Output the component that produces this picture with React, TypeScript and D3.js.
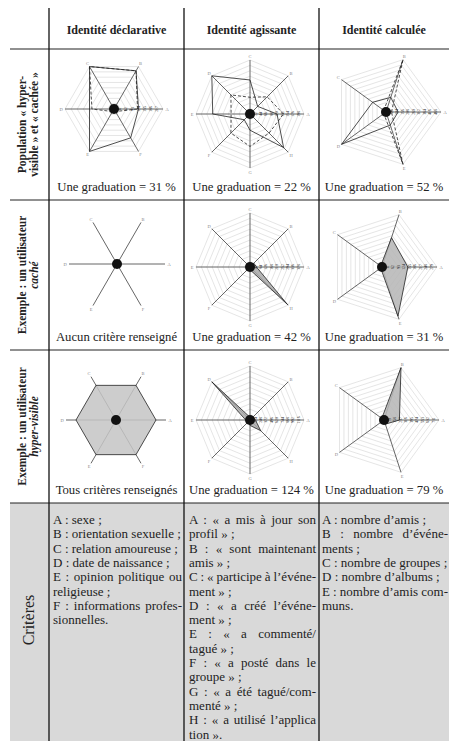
import React, { useEffect, useRef } from "react";
import * as d3 from "d3";

const columns = ["Identité déclarative", "Identité agissante", "Identité calculée"];

const declAxes = ["A", "B", "C", "D", "E", "F"];
const agisAxes = ["A", "B", "C", "D", "E", "F", "G", "H"];
const calcAxes = ["A", "B", "C", "D", "E"];

// ligne 1 : population hyper-visible (trait plein) et cachée (pointillés)
const popDeclHyper = [0.5, 0.9, 1.0, 0.5, 1.0, 0.68];
const popDeclCache = [0.48, 0.9, 1.0, 0.45, 0.06, 0.06];
const popAgisHyper = [0.5, 0.2, 0.63, 1.0, 0.69, 0.15, 0.3, 0.88];
const popAgisCache = [0.62, 0.45, 0.31, 0.5, 0.35, 0.5, 0.6, 0.5];
const popCalcHyper = [0.22, 0.28, 0.3, 1.0, 0.25];
const popCalcCache = [0.1, 1.0, 0.05, 0.05, 1.0];

// ligne 2 : utilisateur caché
const cacheDecl = [0, 0, 0, 0, 0, 0];
const cacheAgis = [0.12, 0.1, 0.02, 0.02, 0.02, 0.02, 0.05, 0.98];
const cacheCalc = [0.47, 0.56, 0.03, 0.03, 0.94];

// ligne 3 : utilisateur hyper-visible
const hyperDecl = [0.8, 0.8, 0.8, 0.8, 0.8, 0.8];
const hyperAgis = [0.1, 0.08, 0.05, 1.0, 0.08, 0.03, 0.1, 0.28];
const hyperCalc = [0.28, 1.0, 0.05, 0.05, 0.08];

const graduations = [31, 22, 52, null, 42, 31, null, 124, 79];
const captions = [
  "Une graduation = 31 %",
  "Une graduation = 22 %",
  "Une graduation = 52 %",
  "Aucun critère renseigné",
  "Une graduation = 42 %",
  "Une graduation = 31 %",
  "Tous critères renseignés",
  "Une graduation = 124 %",
  "Une graduation = 79 %",
];

const rowLabels = [
  { first: "Population « hyper-", second: "visible » et « cachée »", italic: false },
  { first: "Exemple : un utilisateur", second: "caché", italic: true },
  { first: "Exemple : un utilisateur", second: "hyper-visible", italic: true },
];

// [texte, justifié]
const criteresDecl: [string, boolean][] = [
  ["A : sexe ;", false],
  ["B : orientation sexuelle ;", false],
  ["C : relation amoureuse ;", false],
  ["D : date de naissance ;", false],
  ["E : opinion politique ou", true],
  ["religieuse ;", false],
  ["F : informations profes-", true],
  ["sionnelles.", false],
];
const criteresAgis: [string, boolean][] = [
  ["A : « a mis à jour son", true],
  ["profil » ;", false],
  ["B : « sont maintenant", true],
  ["amis » ;", false],
  ["C : « participe à l’événe-", true],
  ["ment » ;", false],
  ["D : « a créé l’événe-", true],
  ["ment » ;", false],
  ["E : « a commenté/", true],
  ["tagué » ;", false],
  ["F : « a posté dans le", true],
  ["groupe » ;", false],
  ["G : « a été tagué/com-", true],
  ["menté » ;", false],
  ["H : « a utilisé l’applica", true],
  ["tion ».", false],
];
const criteresCalc: [string, boolean][] = [
  ["A : nombre d’amis ;", false],
  ["B : nombre d’événe-", true],
  ["ments ;", false],
  ["C : nombre de groupes ;", false],
  ["D : nombre d’albums ;", false],
  ["E : nombre d’amis com-", true],
  ["muns.", false],
];

const W = 449;
const H = 741;
const serif = "Liberation Serif, DejaVu Serif, serif";
const colX = [49, 184, 319, 449];
const rowY = [49, 200, 350, 503];

type Series = { values: number[]; dashed?: boolean; fill?: string };

function Radar({ cx, cy, R, axes, series, rings, grad }: {
  cx: number; cy: number; R: number; axes: string[]; series: Series[]; rings: number; grad: number | null;
}) {
  const n = axes.length;
  const r = d3.scaleLinear().domain([0, 1]).range([0, R]);
  const ang = (i: number) => Math.PI / 2 - (2 * Math.PI * i) / n;
  const line = d3.lineRadial<number>()
    .angle((_, i) => ang(i))
    .radius((d) => r(d))
    .curve(d3.curveLinearClosed);
  const ringVals = rings ? d3.range(1, rings + 1).map((k) => k / rings) : [];
  const pt = (i: number, rad: number) => [rad * Math.sin(ang(i)), -rad * Math.cos(ang(i))];

  return (
    <g transform={`translate(${cx},${cy})`}>
      {ringVals.map((v) => (
        <path key={v} d={line(axes.map(() => v)) || ""} fill="none" stroke="#d4d4d4" strokeWidth={0.6} />
      ))}
      {axes.map((a, i) => {
        const [x, y] = pt(i, r(1));
        const [lx, ly] = pt(i, r(1) + 4);
        return (
          <g key={a}>
            <line x1={0} y1={0} x2={x} y2={y} stroke="#555" strokeWidth={0.9} />
            <text x={lx} y={ly + 1.6} fontSize={4.5} fill="#888" textAnchor="middle">{a}</text>
          </g>
        );
      })}
      {series.map((s, k) => (
        <path key={k} d={line(s.values) || ""} fill={s.fill || "none"} fillOpacity={s.fill ? 0.85 : 0}
          stroke="#222" strokeWidth={0.8} strokeDasharray={s.dashed ? "3,2" : undefined} />
      ))}
      {grad !== null && ringVals.slice(0, rings - 1).map((v, k) => (
        <text key={k} transform={`translate(${r(v) + 1.2},0) rotate(-90)`} fontSize={3.6} fill="#222"
          textAnchor="middle">{(k + 1) * grad}</text>
      ))}
      <circle r={5} fill="#111" />
    </g>
  );
}

export default function App() {
  const ref = useRef<SVGSVGElement>(null);

  useEffect(() => {
    const svg = d3.select(ref.current);
    svg.selectAll<SVGTextElement, unknown>("text.justify").each(function () {
      const t = this as SVGTextElement;
      const target = +(t.getAttribute("data-width") || 0);
      const txt = t.textContent || "";
      const spaces = (txt.match(/ /g) || []).length;
      const len = t.getComputedTextLength();
      if (spaces > 0) {
        t.setAttribute("word-spacing", String((target - len) / spaces));
      }
    });
  }, []);

  const cells = [
    { cx: 114, cy: 109, R: 49, axes: declAxes, rings: 8, series: [{ values: popDeclHyper }, { values: popDeclCache, dashed: true }] },
    { cx: 250, cy: 114, R: 54, axes: agisAxes, rings: 10, series: [{ values: popAgisHyper }, { values: popAgisCache, dashed: true }] },
    { cx: 386, cy: 112, R: 55, axes: calcAxes, rings: 10, series: [{ values: popCalcHyper }, { values: popCalcCache, dashed: true }] },
    { cx: 117, cy: 264, R: 48, axes: declAxes, rings: 0, series: [{ values: cacheDecl }] },
    { cx: 250, cy: 267, R: 54, axes: agisAxes, rings: 10, series: [{ values: cacheAgis, fill: "#a9a9a9" }] },
    { cx: 382, cy: 267, R: 55, axes: calcAxes, rings: 10, series: [{ values: cacheCalc, fill: "#b5b5b5" }] },
    { cx: 116, cy: 420, R: 50, axes: declAxes, rings: 0, series: [{ values: hyperDecl, fill: "#c4c4c4" }] },
    { cx: 250, cy: 420, R: 54, axes: agisAxes, rings: 10, series: [{ values: hyperAgis, fill: "#a9a9a9" }] },
    { cx: 384, cy: 420, R: 55, axes: calcAxes, rings: 10, series: [{ values: hyperCalc, fill: "#b5b5b5" }] },
  ];

  const critCols = [
    { x: 53, w: 129, lines: criteresDecl },
    { x: 189, w: 127, lines: criteresAgis },
    { x: 322, w: 126, lines: criteresCalc },
  ];

  return (
    <svg ref={ref} width={W} height={H} style={{ position: "absolute", left: 0, top: 0, background: "#fff", fontFamily: serif }}>
      <rect x={10} y={rowY[3]} width={W - 10} height={H - rowY[3]} fill="#d9d9d9" />

      {/* traits du tableau */}
      {rowY.map((y, i) => (
        <line key={i} x1={10} x2={W} y1={y} y2={y} stroke="#222" strokeWidth={i === 0 ? 1.2 : 1} />
      ))}
      {colX.slice(0, 3).map((x) => (
        <line key={x} x1={x} x2={x} y1={8} y2={H} stroke="#111" strokeWidth={1.3} />
      ))}

      {/* en-têtes */}
      {columns.map((c, i) => (
        <text key={c} x={(colX[i] + colX[i + 1]) / 2} y={34} textAnchor="middle" fontSize={12}
          fontWeight="bold" fill="#222">{c}</text>
      ))}

      {/* libellés de lignes */}
      {rowLabels.map((l, i) => {
        const cy = (rowY[i] + rowY[i + 1]) / 2;
        return (
          <g key={i} fontWeight="bold" fontSize={11.5} fill="#222" textAnchor="middle">
            <text transform={`translate(26,${cy}) rotate(-90)`}>{l.first}</text>
            <text transform={`translate(38,${cy}) rotate(-90)`} fontStyle={l.italic ? "italic" : "normal"}>{l.second}</text>
          </g>
        );
      })}
      <text transform={`translate(34,620) rotate(-90)`} textAnchor="middle" fontSize={16} fill="#222">Critères</text>

      {/* radars */}
      {cells.map((c, i) => (
        <Radar key={i} cx={c.cx} cy={c.cy} R={c.R} axes={c.axes} series={c.series} rings={c.rings} grad={graduations[i]} />
      ))}

      {/* légendes */}
      {captions.map((t, i) => {
        const col = i % 3;
        const row = Math.floor(i / 3);
        return (
          <text key={i} x={(colX[col] + colX[col + 1]) / 2} y={rowY[row + 1] - 9} textAnchor="middle"
            fontSize={12.7} fill="#222">{t}</text>
        );
      })}

      {/* critères */}
      {critCols.map((col, j) => (
        <g key={j} fontSize={13} fill="#222">
          {col.lines.map(([t, just], k) => (
            <text key={k} className={just ? "justify" : undefined} data-width={col.w} x={col.x}
              y={524 + k * 14.3}>{t}</text>
          ))}
        </g>
      ))}
    </svg>
  );
}
